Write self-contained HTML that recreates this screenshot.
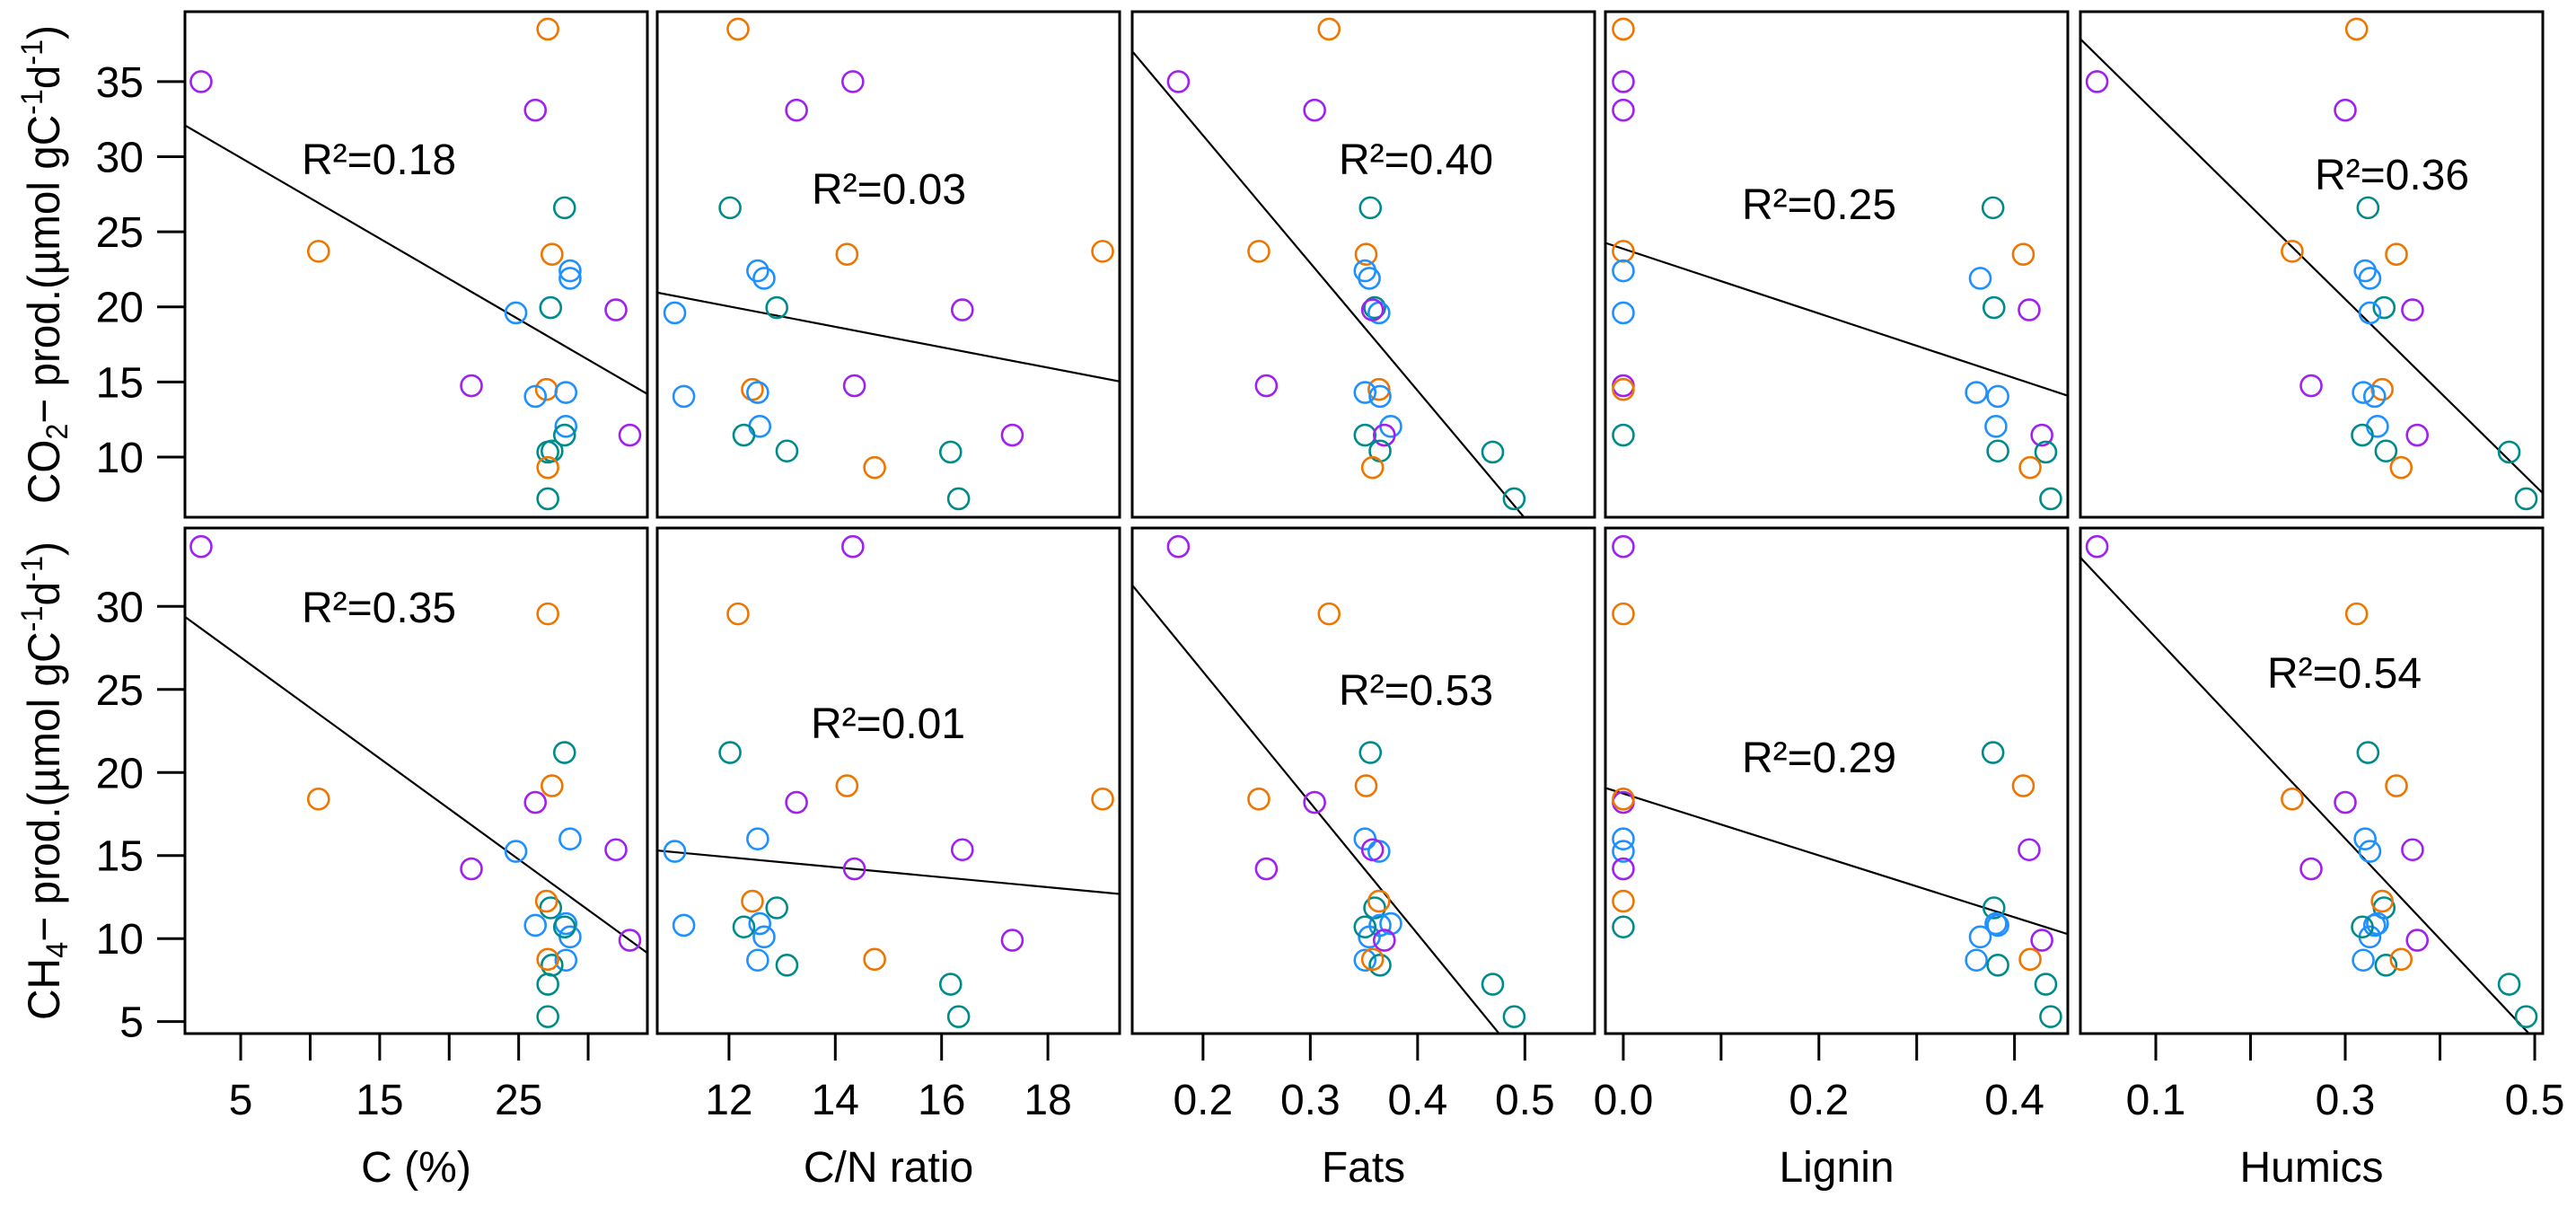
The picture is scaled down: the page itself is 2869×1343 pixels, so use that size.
<!DOCTYPE html>
<html><head><meta charset="utf-8"><style>
html,body{margin:0;padding:0;background:#fff;}
svg{display:block;font-family:"Liberation Sans",Arial,sans-serif;}
</style></head><body>
<svg id="chart" width="2869" height="1343" viewBox="0 0 2869 1343" xmlns="http://www.w3.org/2000/svg"></svg>
<script>
// sample groups (colour)
const groups = ["o","p","p","t","o","o","b","b","t","b","p","p","o","b","b","b","t","p","t","t","o","t"];
// predictors per sample
const carbon = [27.1,2.15,26.2,28.3,10.6,27.4,28.7,28.7,27.3,24.8,32.0,21.6,27.0,28.4,26.2,28.4,28.3,33.0,27.4,27.1,27.1,27.1];
const cnRatio = [12.17,14.33,13.27,12.02,19.03,14.22,12.54,12.66,12.9,10.98,16.39,14.36,12.44,12.54,11.15,12.58,12.28,17.33,13.09,16.17,14.74,16.32];
const fats = [0.3175,0.177,0.304,0.356,0.252,0.352,0.351,0.355,0.36,0.364,0.358,0.259,0.364,0.351,0.365,0.375,0.351,0.369,0.365,0.47,0.358,0.49];
const lignin = [0,0,0,0.378,0,0.409,0,0.365,0.379,0,0.415,0,0,0.361,0.383,0.381,0,0.428,0.383,0.432,0.416,0.437];
const humics = [0.312,0.038,0.30,0.324,0.244,0.354,0.321,0.326,0.341,0.326,0.371,0.264,0.339,0.319,0.331,0.334,0.318,0.376,0.343,0.473,0.359,0.491];
// responses per sample
const co2 = [38.5,35.0,33.1,26.6,23.7,23.5,22.4,21.9,19.95,19.6,19.8,14.75,14.5,14.3,14.04,12.04,11.46,11.46,10.4,10.33,9.3,7.22];
const ch4 = [29.55,33.6,18.2,21.2,18.4,19.2,16.0,10.1,11.85,15.25,15.35,14.2,12.25,8.7,10.8,10.9,10.7,9.9,8.4,7.25,8.75,5.3];
// printed labels
const r2Co2 = ["R²=0.18","R²=0.03","R²=0.40","R²=0.25","R²=0.36"];
const r2Ch4 = ["R²=0.35","R²=0.01","R²=0.53","R²=0.29","R²=0.54"];
const xTitles = ["C (%)","C/N ratio","Fats","Lignin","Humics"];
const xTicks = [[5,10,15,20,25,30],[12,14,16,18],[0.2,0.3,0.4,0.5],[0,0.1,0.2,0.3,0.4],[0.1,0.2,0.3,0.4,0.5]];
const xTickLabels = [["5","","15","","25",""],["12","14","16","18"],["0.2","0.3","0.4","0.5"],["0.0","","0.2","","0.4"],["0.1","","0.3","","0.5"]];
const co2Ticks = [10,15,20,25,30,35];
const ch4Ticks = [5,10,15,20,25,30];

const colors = {o:"#EE7600",p:"#A020F0",b:"#1E90FF",t:"#008B8B"};
const xs = [carbon,cnRatio,fats,lignin,humics];
const xDomains = [[0.99,34.26],[10.65,19.35],[0.134,0.565],[-0.0183,0.4545],[0.0204,0.5085]];
const lefts = [206,732,1261,1788,2317], PW = 515;
const rows = [
 {y:co2, top:13, bot:576, dom:[5.99,39.66], ticks:co2Ticks, r2:r2Co2,
  r2pos:[[422,194],[990,227],[1577,194],[2026,244],[2664,211]], title:["CO","2","− prod.(µmol gC","-1","d","-1",")"], name:"co2"},
 {y:ch4, top:588, bot:1151, dom:[4.28,34.72], ticks:ch4Ticks, r2:r2Ch4,
  r2pos:[[422,693],[989,822],[1577,785],[2026,860],[2611,766]], title:["CH","4","− prod.(µmol gC","-1","d","-1",")"], name:"ch4"}
];
const NS="http://www.w3.org/2000/svg";
const svg=document.getElementById('chart');
function mk(tag,attrs,parent){const e=document.createElementNS(NS,tag);for(const k in attrs)e.setAttribute(k,attrs[k]);(parent||svg).appendChild(e);return e;}
function sx(c,v){const d=xDomains[c];return lefts[c]+(v-d[0])/(d[1]-d[0])*PW;}
function sy(r,v){const R=rows[r];return R.bot-(v-R.dom[0])/(R.dom[1]-R.dom[0])*(R.bot-R.top);}

const defs=mk('defs',{});
rows.forEach((R,ri)=>{
  // y title
  const cy=(R.top+R.bot)/2;
  const t=mk('text',{x:0,y:0,transform:`translate(66,${cy}) rotate(-90)`,'text-anchor':'middle','font-size':50,textLength:533,lengthAdjust:'spacingAndGlyphs'});
  
  
  R.title.forEach((s,i)=>{const ts=mk('tspan',{},t);ts.textContent=s;
    if(i===1){ts.setAttribute('baseline-shift','-25%');ts.setAttribute('font-size',34);}
    if(i===3||i===5){ts.setAttribute('baseline-shift','55%');ts.setAttribute('font-size',34);}});
  // y ticks
  R.ticks.forEach(v=>{const y=sy(ri,v);
    const l=mk('line',{x1:175,x2:206,y1:y,y2:y,stroke:'#000','stroke-width':3});
    
    
    const tx=mk('text',{x:160,y:y+17,'text-anchor':'end','font-size':48});
    
    
    tx.textContent=String(v);});
  for(let c=0;c<5;c++){
    const g=mk('g',{});
    
    
    const cp=mk('clipPath',{id:`cp${ri}${c}`},defs);
    mk('rect',{x:lefts[c],y:R.top,width:PW,height:R.bot-R.top},cp);
    // regression
    const X=xs[c],Y=R.y,n=X.length;let mx=0,my=0;for(let i=0;i<n;i++){mx+=X[i];my+=Y[i];}mx/=n;my/=n;
    let sxy=0,sxx=0;for(let i=0;i<n;i++){sxy+=(X[i]-mx)*(Y[i]-my);sxx+=(X[i]-mx)**2;}
    const b=sxy/sxx,a=my-b*mx,d=xDomains[c];
    const ln=mk('line',{x1:sx(c,d[0]),y1:sy(ri,a+b*d[0]),x2:sx(c,d[1]),y2:sy(ri,a+b*d[1]),stroke:'#000','stroke-width':2.2,'clip-path':`url(#cp${ri}${c})`},g);
    
    
    for(let i=0;i<n;i++){
      const p=mk('circle',{cx:sx(c,X[i]),cy:sy(ri,Y[i]),r:11.5,fill:'none',stroke:colors[groups[i]],'stroke-width':2.6},g);
      
      
    }
    const fr=mk('rect',{x:lefts[c],y:R.top,width:PW,height:R.bot-R.top,fill:'none',stroke:'#000','stroke-width':3},g);
    
    
    const rt=mk('text',{x:R.r2pos[c][0],y:R.r2pos[c][1],'text-anchor':'middle','font-size':48},g);
    
    
    rt.textContent=R.r2[c];
    if(ri===1){
      xTicks[c].forEach((v,k)=>{const x=sx(c,v);
        const l=mk('line',{x1:x,x2:x,y1:1151,y2:1181,stroke:'#000','stroke-width':3});
        
        
        if(xTickLabels[c][k]){const tx=mk('text',{x:x,y:1241,'text-anchor':'middle','font-size':48});
          
          
          tx.textContent=xTickLabels[c][k];}
      });
      const xt=mk('text',{x:lefts[c]+PW/2,y:1316,'text-anchor':'middle','font-size':48});
      
      
      xt.textContent=xTitles[c];
    }
  }
});
</script>
</body></html>
